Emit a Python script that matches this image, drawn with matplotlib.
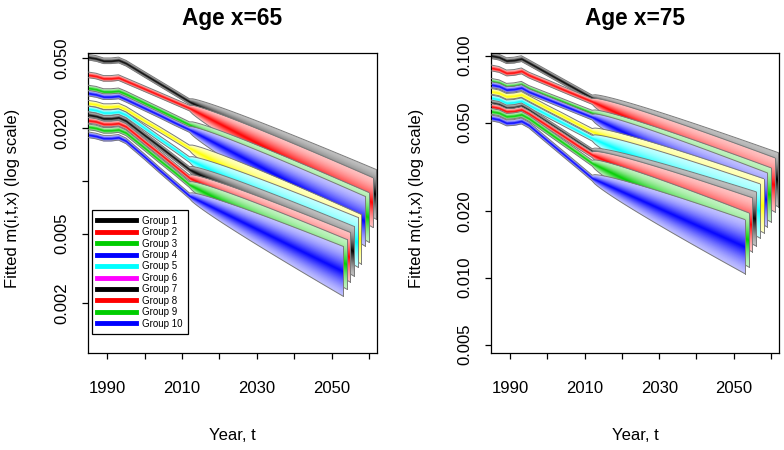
import numpy as np
import matplotlib.pyplot as plt
from matplotlib.lines import Line2D
from matplotlib.colors import to_rgb

plt.rcParams['font.family'] = ['Liberation Sans', 'DejaVu Sans']

# ---- data ----
hist_years = [1985, 1987, 1989, 1991, 1993, 1995, 2000, 2004, 2008, 2012]
end_years = [2062, 2061, 2060, 2059, 2058, 2057, 2056, 2055, 2054, 2053]
groups = ['Group %d' % i for i in range(1, 11)]
fan_colors = ['black', 'red', '#00CD00', 'blue', 'yellow', 'cyan',
              'black', 'red', '#00CD00', 'blue']
legend_colors = ['black', 'red', '#00CD00', 'blue', 'cyan', 'magenta',
                 'black', 'red', '#00CD00', 'blue']

# age 65: fitted rates per group
hist_65 = [
    [0.0507, 0.0499, 0.0484, 0.0484, 0.0489, 0.0469, 0.0404, 0.0359, 0.0319, 0.0283],
    [0.0402, 0.0396, 0.0384, 0.0384, 0.0388, 0.0372, 0.0335, 0.0308, 0.0283, 0.0260],
    [0.0338, 0.0333, 0.0323, 0.0323, 0.0326, 0.0313, 0.0278, 0.0253, 0.0230, 0.0209],
    [0.0316, 0.0311, 0.0302, 0.0302, 0.0305, 0.0292, 0.0260, 0.0237, 0.0215, 0.0196],
    [0.0277, 0.0273, 0.0265, 0.0265, 0.0267, 0.0256, 0.0220, 0.0196, 0.0174, 0.0154],
    [0.0257, 0.0253, 0.0245, 0.0245, 0.0248, 0.0238, 0.0200, 0.0174, 0.0152, 0.0132],
    [0.0238, 0.0234, 0.0227, 0.0227, 0.0230, 0.0220, 0.0182, 0.0157, 0.0135, 0.0116],
    [0.0221, 0.0218, 0.0211, 0.0211, 0.0213, 0.0204, 0.0167, 0.0143, 0.0122, 0.0104],
    [0.0203, 0.0200, 0.0194, 0.0194, 0.0196, 0.0188, 0.0154, 0.0131, 0.0112, 0.0095],
    [0.0183, 0.0180, 0.0175, 0.0175, 0.0177, 0.0169, 0.0137, 0.0115, 0.0097, 0.0082],
]
end_mid_65 = [0.00835, 0.00752, 0.00618, 0.00587, 0.00463,
              0.00446, 0.00396, 0.00366, 0.00334, 0.00305]

# age 75
hist_75 = [
    [0.1000, 0.0985, 0.0950, 0.0955, 0.0970, 0.0930, 0.0835, 0.0766, 0.0703, 0.0645],
    [0.0880, 0.0867, 0.0836, 0.0840, 0.0854, 0.0818, 0.0755, 0.0707, 0.0663, 0.0622],
    [0.0766, 0.0755, 0.0728, 0.0732, 0.0743, 0.0712, 0.0660, 0.0622, 0.0585, 0.0551],
    [0.0740, 0.0729, 0.0703, 0.0707, 0.0718, 0.0688, 0.0637, 0.0599, 0.0563, 0.0529],
    [0.0690, 0.0680, 0.0656, 0.0659, 0.0669, 0.0642, 0.0580, 0.0536, 0.0494, 0.0456],
    [0.0645, 0.0635, 0.0613, 0.0616, 0.0626, 0.0600, 0.0542, 0.0500, 0.0461, 0.0425],
    [0.0612, 0.0603, 0.0581, 0.0584, 0.0594, 0.0569, 0.0501, 0.0453, 0.0409, 0.0370],
    [0.0590, 0.0581, 0.0561, 0.0563, 0.0572, 0.0549, 0.0484, 0.0438, 0.0395, 0.0358],
    [0.0561, 0.0553, 0.0533, 0.0536, 0.0544, 0.0522, 0.0455, 0.0408, 0.0366, 0.0328],
    [0.0524, 0.0516, 0.0498, 0.0500, 0.0508, 0.0487, 0.0414, 0.0364, 0.0320, 0.0281],
]
end_mid_75 = [0.0276, 0.0262, 0.0236, 0.0224, 0.0211,
              0.0200, 0.0184, 0.0173, 0.0148, 0.0138]

# half widths of the bands (log10 units)
hist_hw = {65: 0.016, 75: 0.013}
end_hw = {65: 0.142, 75: 0.122}


def draw_fan(ax, vals, end_year, end_mid, hhw, ehw, color, z):
    base = np.array(to_rgb(color))
    ly = np.log10(vals)
    t = np.linspace(hist_years[-1], end_year, 60)
    frac = (t - hist_years[-1]) / (end_year - hist_years[-1])
    cf = ly[-1] + (np.log10(end_mid) - ly[-1]) * frac
    hwf = hhw + (ehw - hhw) * frac ** 0.65
    x = np.concatenate([hist_years[:-1], t])
    c = np.concatenate([ly[:-1], cf])
    hw = np.concatenate([np.full(len(hist_years) - 1, hhw), hwf])
    for d in np.linspace(1, 0.03, 28):
        a = 0.25 + 0.75 * (1 - d) ** 1.5
        col = 1 - a * (1 - base)
        ax.fill_between(x, 10 ** (c - d * hw), 10 ** (c + d * hw),
                        color=col, lw=0, zorder=z)
    ol = dict(color='#7a7a7a', lw=0.7, zorder=z + 0.5)
    ax.plot(x, 10 ** (c + hw), **ol)
    ax.plot(x, 10 ** (c - hw), **ol)
    ax.plot([x[-1], x[-1]], [10 ** (c[-1] - hw[-1]), 10 ** (c[-1] + hw[-1])], **ol)


fig = plt.figure(figsize=(7.84, 4.5), dpi=100)
W, H = 784, 450

panels = [
    (65, hist_65, end_mid_65, [88, 53, 377, 353], (0.00104, 0.0536),
     [0.002, 0.005, 0.010, 0.020, 0.050], ['0.002', '0.005', '', '0.020', '0.050']),
    (75, hist_75, end_mid_75, [491, 53, 779, 353], (0.00458, 0.1028),
     [0.005, 0.010, 0.020, 0.050, 0.100], ['0.005', '0.010', '0.020', '0.050', '0.100']),
]

for age, hist, end_mid, box, ylim, yt, ytl in panels:
    x0, y0, x1, y1 = box
    ax = fig.add_axes([x0 / W, 1 - y1 / H, (x1 - x0) / W, (y1 - y0) / H])
    ax.set_yscale('log')
    for g in range(10):
        draw_fan(ax, hist[g], end_years[g], end_mid[g], hist_hw[age], end_hw[age],
                 fan_colors[g], 2 + g)
    ax.set_xlim(1984.85, 2062.15)
    ax.set_ylim(*ylim)
    ax.set_xticks(range(1990, 2061, 10))
    ax.set_xticklabels(['1990', '', '2010', '', '2030', '', '2050', ''])
    ax.set_yticks(yt)
    ax.set_yticklabels(ytl, rotation=90, va='center')
    ax.yaxis.set_minor_locator(plt.NullLocator())
    ax.tick_params(axis='both', direction='out', length=4.5, width=0.9,
                   labelsize=12, pad=16)
    ax.tick_params(axis='y', pad=9)
    for s in ax.spines.values():
        s.set_linewidth(0.9)
    xc = (x0 + x1) / 2
    fig.text(xc / W, 1 - 18 / H, 'Age x=%d' % age, ha='center', va='center',
             fontsize=16.3, fontweight='bold')
    fig.text(xc / W, 1 - 435 / H, 'Year, t', ha='center', va='center', fontsize=12)
    fig.text((x0 - 75) / W, 1 - 198 / H, 'Fitted m(i,t,x) (log scale)', rotation=90,
             ha='center', va='center', fontsize=12)
    if age == 65:
        handles = [Line2D([], [], color=c, lw=3.5) for c in legend_colors]
        leg = ax.legend(handles, groups, loc='lower left',
                        bbox_to_anchor=(0.0127, 0.063), borderaxespad=0,
                        fontsize=7, handlelength=4.0, labelspacing=0.15,
                        handletextpad=0.6, borderpad=0.55, fancybox=False,
                        edgecolor='black', framealpha=1)
        leg.get_frame().set_linewidth(0.9)
        leg.set_zorder(30)

fig.savefig('out.png', dpi=100)
